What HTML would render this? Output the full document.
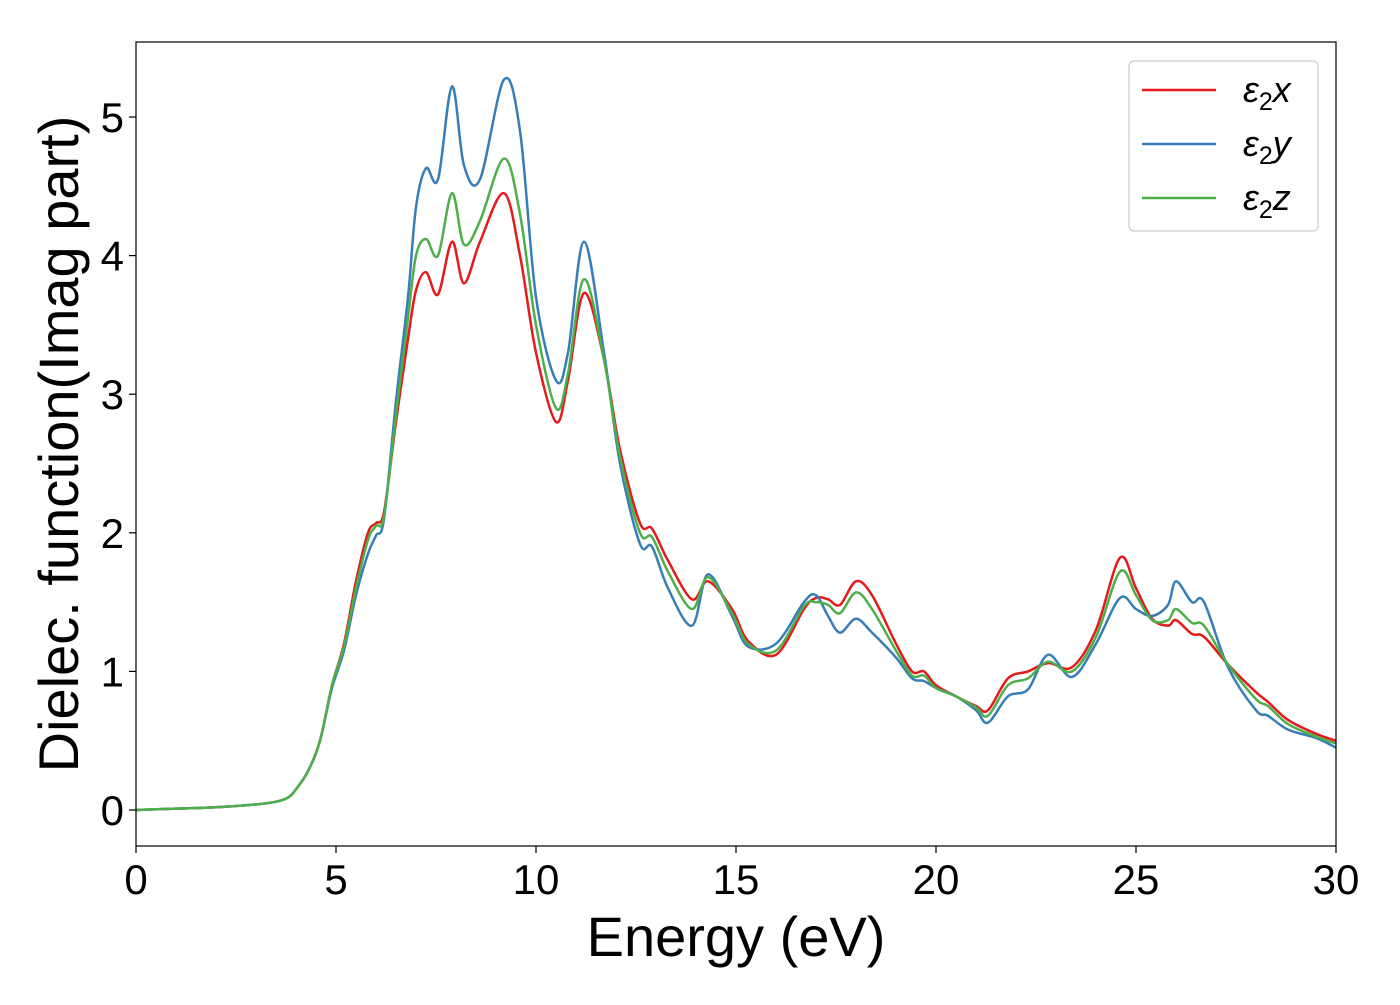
<!DOCTYPE html>
<html><head><meta charset="utf-8"><style>
body{margin:0;background:#fff}
svg{font-family:"Liberation Sans","DejaVu Sans",sans-serif}
</style></head><body>
<svg id="chart" width="1400" height="1000"></svg>
<script>
const energies=[0,1,2,3,3.5,3.8,4.0,4.3,4.6,4.9,5.2,5.5,5.8,6.0,6.2,6.5,6.8,7.0,7.25,7.55,7.9,8.2,8.6,9.2,9.6,10.0,10.5,10.8,11.2,11.7,12.1,12.6,12.9,13.3,13.9,14.3,14.9,15.3,16.0,16.7,17.0,17.3,17.6,18.0,18.4,19.0,19.4,19.7,20.0,20.5,21.0,21.3,21.8,22.3,22.8,23.4,24.0,24.6,25.0,25.4,25.8,26.0,26.4,26.7,27.3,28.0,28.3,28.8,29.5,30];
const eps2x=[0,0.01,0.02,0.04,0.06,0.09,0.15,0.28,0.5,0.9,1.2,1.65,2.0,2.07,2.15,2.8,3.4,3.75,3.88,3.72,4.1,3.8,4.1,4.45,4.0,3.3,2.8,3.1,3.73,3.25,2.6,2.07,2.03,1.8,1.52,1.65,1.45,1.22,1.12,1.45,1.53,1.52,1.48,1.65,1.55,1.2,1.0,1.0,0.9,0.82,0.75,0.72,0.95,1.0,1.06,1.03,1.3,1.82,1.6,1.38,1.33,1.37,1.27,1.25,1.05,0.85,0.78,0.65,0.55,0.5];
const eps2y=[0,0.01,0.02,0.04,0.06,0.09,0.15,0.28,0.5,0.88,1.15,1.55,1.85,1.98,2.1,2.95,3.7,4.35,4.63,4.55,5.22,4.65,4.55,5.27,4.9,3.7,3.1,3.3,4.1,3.3,2.5,1.92,1.9,1.6,1.33,1.7,1.4,1.18,1.2,1.5,1.55,1.4,1.28,1.38,1.28,1.1,0.95,0.93,0.88,0.82,0.72,0.63,0.82,0.87,1.12,0.96,1.2,1.53,1.45,1.4,1.48,1.65,1.5,1.5,1.03,0.72,0.68,0.58,0.52,0.45];
const eps2z=[0,0.01,0.02,0.04,0.06,0.09,0.15,0.28,0.5,0.9,1.18,1.6,1.95,2.05,2.12,2.85,3.55,4.0,4.12,4.0,4.45,4.08,4.25,4.7,4.3,3.5,2.9,3.15,3.83,3.25,2.55,2.0,1.97,1.72,1.45,1.68,1.42,1.2,1.15,1.47,1.5,1.48,1.42,1.57,1.45,1.15,0.97,0.97,0.88,0.82,0.74,0.68,0.9,0.95,1.07,1.0,1.25,1.72,1.55,1.37,1.37,1.45,1.35,1.33,1.05,0.8,0.75,0.62,0.53,0.48];
const xTicks=[0,5,10,15,20,25,30];
const yTicks=[0,1,2,3,4,5];
const seriesNames=["x","y","z"];
const colors=["#e41a1c","#377eb8","#4daf4a"];

const L=136,R=1336,T=42,B=846;
const X=v=>L+(v-0)/30*(R-L);
const Y=v=>810-v*138.6;
const NS="http://www.w3.org/2000/svg";
const svg=document.getElementById('chart');
function mk(tag,attrs,parent){const e=document.createElementNS(NS,tag);for(const k in attrs)e.setAttribute(k,attrs[k]);(parent||svg).appendChild(e);return e;}

const clip=mk('clipPath',{id:'clp'});mk('rect',{x:L,y:T,width:R-L,height:B-T},clip);

function pathFor(ys){
  const p=energies.map((e,i)=>[X(e),Y(ys[i])]);
  let d=`M${p[0][0]},${p[0][1]}`;
  for(let i=0;i<p.length-1;i++){
    const p0=p[Math.max(i-1,0)],p1=p[i],p2=p[i+1],p3=p[Math.min(i+2,p.length-1)];
    const c1=[p1[0]+(p2[0]-p0[0])/6,p1[1]+(p2[1]-p0[1])/6];
    const c2=[p2[0]-(p3[0]-p1[0])/6,p2[1]-(p3[1]-p1[1])/6];
    d+=`C${c1[0]},${c1[1]} ${c2[0]},${c2[1]} ${p2[0]},${p2[1]}`;
  }
  return d;
}
[eps2x,eps2y,eps2z].forEach((ys,i)=>{
  const pth=mk('path',{d:pathFor(ys),fill:'none',stroke:colors[i],'stroke-width':2.5,'clip-path':'url(#clp)'});
  
  
});

const frame=mk('rect',{x:L,y:T,width:R-L,height:B-T,fill:'none',stroke:'#000','stroke-width':1.2});



xTicks.forEach(t=>{
  mk('line',{x1:X(t),x2:X(t),y1:B,y2:B+7,stroke:'#000','stroke-width':1.2});
  const tx=mk('text',{x:X(t),y:B+48,'font-size':42,'text-anchor':'middle'});
  tx.textContent=t;
  
  
});
yTicks.forEach(t=>{
  mk('line',{x1:L-7,x2:L,y1:Y(t),y2:Y(t),stroke:'#000','stroke-width':1.2});
  const tx=mk('text',{x:L-12,y:Y(t)+15,'font-size':42,'text-anchor':'end'});
  tx.textContent=t;
  
  
});
const xt=mk('text',{x:736,y:956,'font-size':56,'text-anchor':'middle'});
xt.textContent='Energy (eV)';


const yt=mk('text',{x:0,y:0,'font-size':56,'text-anchor':'middle',transform:'translate(78,444) rotate(-90)'});
yt.textContent='Dielec. function(Imag part)';



const lg=mk('g',{});


mk('rect',{x:1129,y:61,width:189,height:170,rx:5,fill:'#fff',stroke:'#ccc','stroke-width':1.2},lg);
seriesNames.forEach((n,i)=>{
  const yy=90+i*54;
  mk('line',{x1:1142,x2:1216,y1:yy,y2:yy,stroke:colors[i],'stroke-width':2.5},lg);
  const t=mk('text',{x:1243,y:yy+12,'font-size':36,'font-style':'italic'},lg);
  t.innerHTML='ε<tspan font-style="normal" font-size="25" dy="8">2</tspan><tspan dy="-8">'+n+'</tspan>';
  
  
});
</script>
</body></html>
